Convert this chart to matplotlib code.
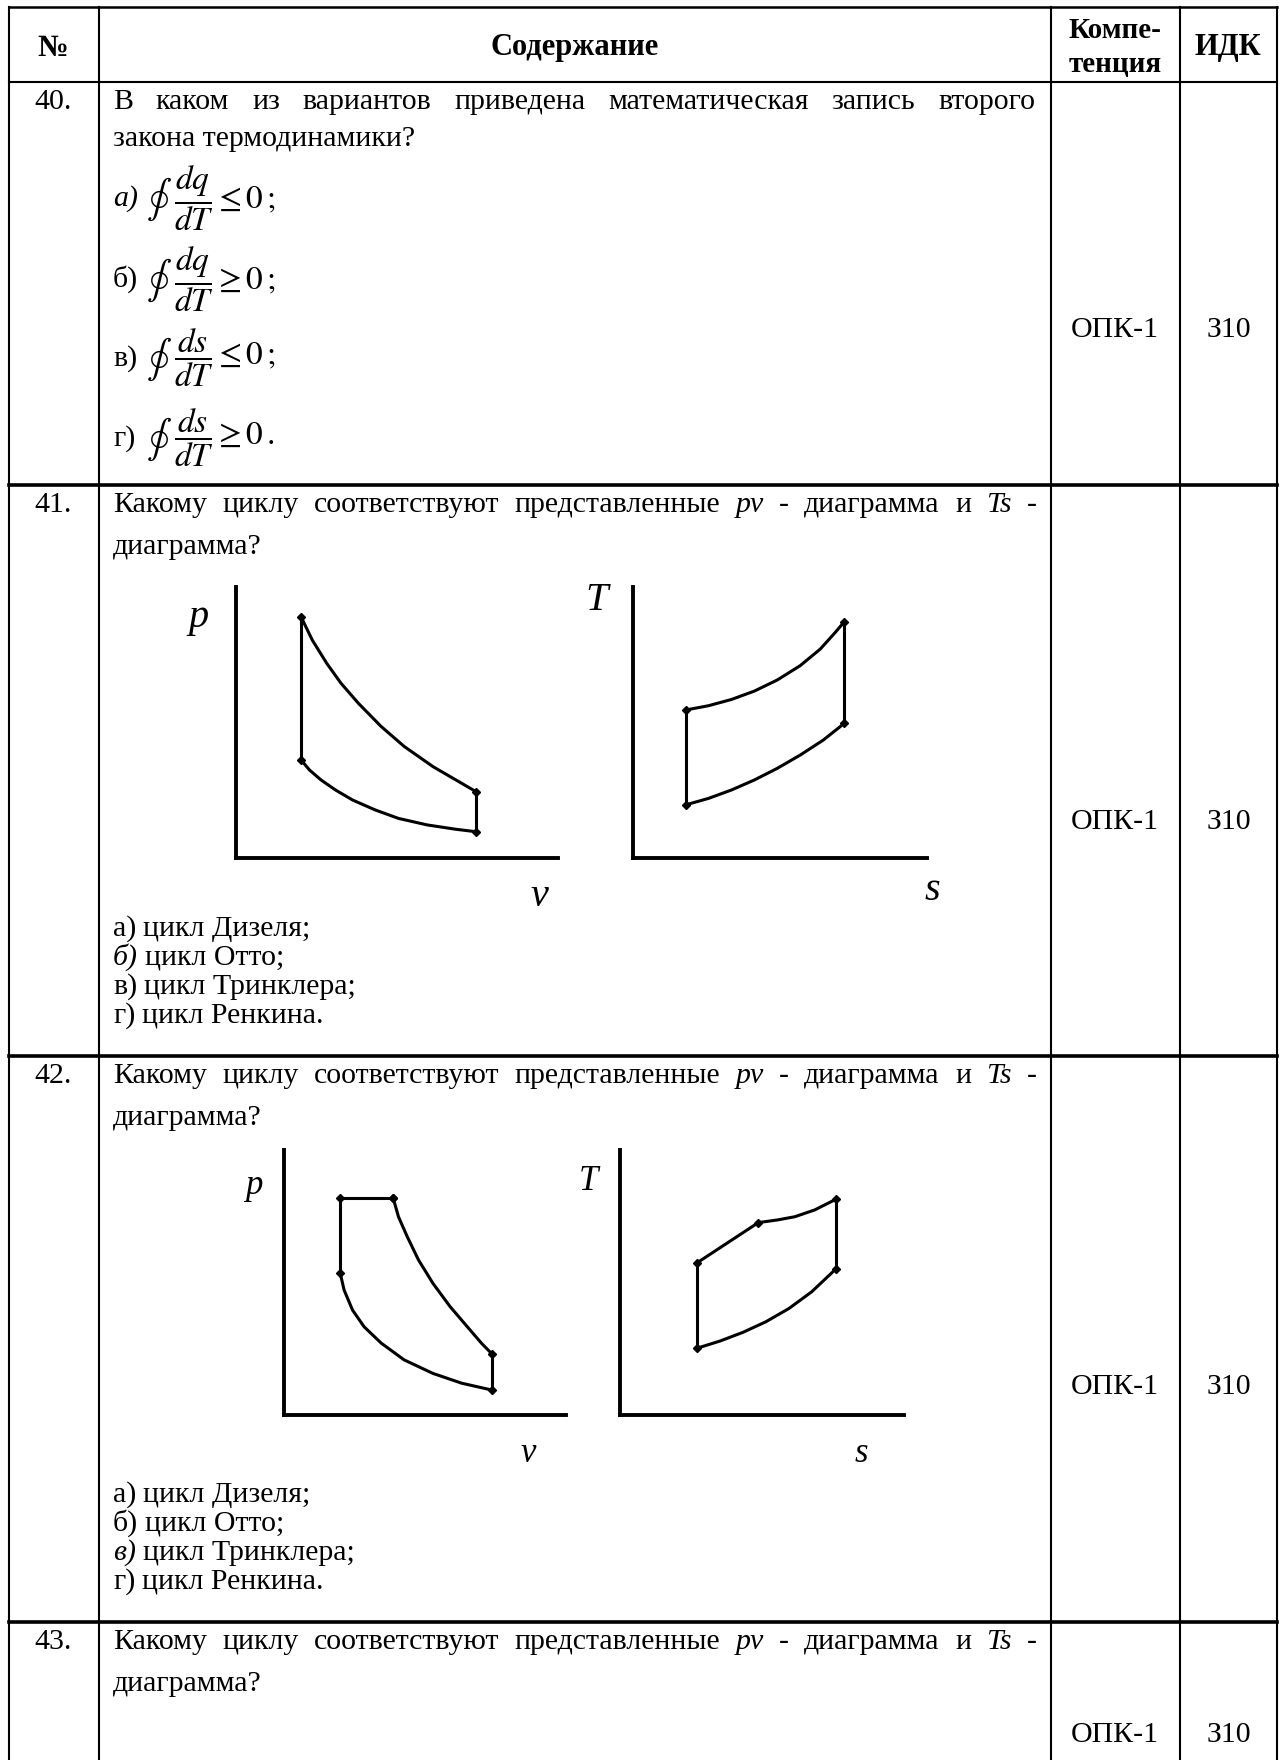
import matplotlib
matplotlib.use("Agg")
import matplotlib.pyplot as plt

plt.rcParams['font.family'] = ['Liberation Serif', 'DejaVu Serif']
plt.rcParams['mathtext.fontset'] = 'stix'

W, H = 1284, 1760
FS = 21.5

# table grid, page pixels
col_x = [9, 99, 1051, 1180, 1277]
row_y = [7, 82, 485, 1056, 1622]

header = ["№", "Содержание", "ИДК"]
header_comp = ["Компе-", "тенция"]
row_nums = ["40.", "41.", "42.", "43."]
competence = ["ОПК-1", "ОПК-1", "ОПК-1", "ОПК-1"]
idk = ["З10", "З10", "З10", "З10"]

q40_words = "В каком из вариантов приведена математическая запись второго".split()
q40_line2 = "закона термодинамики?"
q40_labels = ["а)", "б)", "в)", "г)"]
q40_formulas = [r"$\dfrac{dq}{dT}\leq 0\,;$",
                r"$\dfrac{dq}{dT}\geq 0\,;$",
                r"$\dfrac{ds}{dT}\leq 0\,;$",
                r"$\dfrac{ds}{dT}\geq 0\,.$"]

cycle_words = [("Какому", "normal"), ("циклу", "normal"), ("соответствуют", "normal"),
               ("представленные", "normal"), ("pv", "italic"), ("-", "normal"),
               ("диаграмма", "normal"), ("и", "normal"), ("Ts", "italic"), ("-", "normal")]
cycle_line2 = "диаграмма?"
answer_labels = ["а)", "б)", "в)", "г)"]
answers = ["цикл Дизеля;", "цикл Отто;", "цикл Тринклера;", "цикл Ренкина."]

# q41: Otto cycle (diagram units 0..100)
otto_exp_v = [20.2, 23.7, 28.2, 32.6, 38.0, 45.1, 52.3, 61.2, 68.3, 74.5]
otto_exp_p = [89.0, 80.4, 71.8, 64.5, 57.1, 48.5, 41.1, 33.7, 28.8, 24.5]
otto_comp_v = [20.2, 22.8, 26.4, 30.9, 36.2, 43.3, 50.5, 59.4, 68.3, 74.5]
otto_comp_p = [36.2, 32.5, 28.8, 25.1, 21.4, 17.7, 14.6, 12.2, 10.6, 9.7]
otto_hot_s = [17.9, 25.7, 33.5, 41.3, 49.1, 56.9, 63.7, 68.6, 71.9]
otto_hot_T = [54.6, 56.2, 58.5, 61.6, 65.7, 71.0, 77.1, 83.0, 87.2]
otto_cold_s = [17.9, 25.7, 33.5, 41.3, 49.1, 56.9, 64.7, 71.9]
otto_cold_T = [19.6, 22.0, 25.1, 28.8, 33.1, 38.0, 43.5, 49.7]

# q42: Trinkler cycle
trink_isobar_v = [19.9, 38.7]
trink_isobar_p = [81.9, 81.9]
trink_exp_v = [38.7, 40.6, 43.7, 47.7, 52.8, 58.9, 65.0, 70.1, 73.8]
trink_exp_p = [81.9, 74.8, 67.3, 58.5, 49.7, 40.9, 33.3, 27.0, 23.0]
trink_comp_v = [19.9, 21.3, 24.3, 28.4, 34.5, 42.6, 52.8, 63.0, 73.8]
trink_comp_p = [53.7, 47.2, 39.6, 33.3, 27.1, 20.8, 15.7, 12.0, 9.4]
trink_hot_s = [27.1, 48.7, 55.4, 61.5, 68.6, 76.0]
trink_hot_T = [57.4, 72.6, 73.6, 74.8, 77.4, 81.4]
trink_hot_marks = [0, 1, 5]
trink_cold_s = [27.1, 35.2, 43.3, 51.4, 59.5, 67.5, 76.0]
trink_cold_T = [25.2, 27.9, 31.2, 35.2, 40.2, 46.5, 55.1]

LW = 2.2
MS = 4

fig = plt.figure(figsize=(W / 100, H / 100), dpi=100)
ax = fig.add_axes([0, 0, 1, 1])
ax.set_xlim(0, W)
ax.set_ylim(H, 0)
ax.axis("off")
renderer = fig.canvas.get_renderer()


def width_of(t):
    return t.get_window_extent(renderer).width


def justify(words, x0, x1, y):
    texts = [ax.text(0, y, w, fontsize=FS, style=st, va="baseline") for w, st in words]
    widths = [width_of(t) for t in texts]
    gap = (x1 - x0 - sum(widths)) / (len(texts) - 1)
    x = x0
    for t, w in zip(texts, widths):
        t.set_x(x)
        x += w + gap


def label_line(label, text, y, italic=False):
    t = ax.text(113, y, label, fontsize=FS, va="baseline",
                style="italic" if italic else "normal")
    ax.text(113 + width_of(t) + 7, y, text, fontsize=FS, va="baseline")


def diagram(box):
    left, top, right, bottom = box
    a = fig.add_axes([left / W, 1 - bottom / H, (right - left) / W, (bottom - top) / H])
    a.set_xlim(0, 100)
    a.set_ylim(0, 100)
    a.patch.set_visible(False)
    for s in ("top", "right"):
        a.spines[s].set_visible(False)
    for s in ("left", "bottom"):
        a.spines[s].set_linewidth(2.8)
    a.set_xticks([])
    a.set_yticks([])
    return a


def curve(a, xs, ys, marks=(0, -1)):
    a.plot(xs, ys, color="black", lw=LW, solid_joinstyle="round",
           solid_capstyle="round", clip_on=False)
    for i in marks:
        a.plot(xs[i], ys[i], marker="D", ms=MS, color="black", clip_on=False)


def close(a, p, q):
    a.plot([p[0], q[0]], [p[1], q[1]], color="black", lw=LW, clip_on=False)


# ---- grid ----
for x in col_x:
    ax.plot([x, x], [row_y[0], H], color="black", lw=1.5)
ax.plot([col_x[0], col_x[-1]], [row_y[0], row_y[0]], color="black", lw=1.8)
ax.plot([col_x[0], col_x[-1]], [row_y[1], row_y[1]], color="black", lw=1.5)
for y in row_y[2:]:
    ax.plot([col_x[0], col_x[-1]], [y, y], color="black", lw=2.6)

# ---- header ----
HFS = 22
ax.text(53, 48, header[0], fontsize=HFS, weight="bold", ha="center", va="center")
ax.text(575, 48, header[1], fontsize=HFS, weight="bold", ha="center", va="center")
ax.text(1115, 38, header_comp[0], fontsize=21, weight="bold", ha="center", va="baseline")
ax.text(1115, 72, header_comp[1], fontsize=21, weight="bold", ha="center", va="baseline")
ax.text(1228, 48, header[2], fontsize=HFS, weight="bold", ha="center", va="center")

# ---- left and right columns ----
num_base = [109, 512, 1083, 1649]
comp_base = [337, 829, 1394, 1742]
for i in range(4):
    ax.text(53, num_base[i], row_nums[i], fontsize=FS, ha="center", va="baseline")
    ax.text(1115, comp_base[i], competence[i], fontsize=FS, ha="center", va="baseline")
    ax.text(1229, comp_base[i], idk[i], fontsize=FS, ha="center", va="baseline")

# ---- question 40 ----
justify([(w, "normal") for w in q40_words], 113, 1035, num_base[0])
ax.text(113, 146, q40_line2, fontsize=FS, va="baseline")
bars = [198, 279, 358, 438]
for i in range(4):
    ax.text(113, bars[i] + 8, q40_labels[i], fontsize=FS, va="baseline",
            style="italic" if i == 0 else "normal")
    ax.text(172, bars[i] + 1, r"$\oint$", fontsize=27, ha="right", va="center")
    ax.text(174, bars[i], q40_formulas[i], fontsize=24, va="center")

# ---- question 41 ----
justify(cycle_words, 113, 1037, num_base[1])
ax.text(113, num_base[1] + 42, cycle_line2, fontsize=FS, va="baseline")
for i in range(4):
    label_line(answer_labels[i], answers[i], 936 + 29 * i, italic=(i == 1))

a = diagram((236, 587, 558, 858))
curve(a, otto_exp_v, otto_exp_p)
curve(a, otto_comp_v, otto_comp_p)
close(a, (otto_exp_v[0], otto_exp_p[0]), (otto_comp_v[0], otto_comp_p[0]))
close(a, (otto_exp_v[-1], otto_exp_p[-1]), (otto_comp_v[-1], otto_comp_p[-1]))

a = diagram((633, 587, 927, 858))
curve(a, otto_hot_s, otto_hot_T)
curve(a, otto_cold_s, otto_cold_T)
close(a, (otto_hot_s[0], otto_hot_T[0]), (otto_cold_s[0], otto_cold_T[0]))
close(a, (otto_hot_s[-1], otto_hot_T[-1]), (otto_cold_s[-1], otto_cold_T[-1]))

ax.text(198, 617, "p", fontsize=29, style="italic", ha="center", va="center")
ax.text(539, 896, "v", fontsize=29, style="italic", ha="center", va="center")
ax.text(597, 600, "T", fontsize=29, style="italic", ha="center", va="center")
ax.text(932, 890, "s", fontsize=29, style="italic", ha="center", va="center")

# ---- question 42 ----
justify(cycle_words, 113, 1037, num_base[2])
ax.text(113, num_base[2] + 42, cycle_line2, fontsize=FS, va="baseline")
for i in range(4):
    label_line(answer_labels[i], answers[i], 1502 + 29 * i, italic=(i == 2))

a = diagram((284, 1150, 566, 1415))
curve(a, trink_isobar_v, trink_isobar_p)
curve(a, trink_exp_v, trink_exp_p)
curve(a, trink_comp_v, trink_comp_p)
close(a, (trink_isobar_v[0], trink_isobar_p[0]), (trink_comp_v[0], trink_comp_p[0]))
close(a, (trink_exp_v[-1], trink_exp_p[-1]), (trink_comp_v[-1], trink_comp_p[-1]))

a = diagram((620, 1150, 904, 1415))
curve(a, trink_hot_s, trink_hot_T, marks=trink_hot_marks)
curve(a, trink_cold_s, trink_cold_T)
close(a, (trink_hot_s[0], trink_hot_T[0]), (trink_cold_s[0], trink_cold_T[0]))
close(a, (trink_hot_s[-1], trink_hot_T[-1]), (trink_cold_s[-1], trink_cold_T[-1]))

ax.text(254, 1185, "p", fontsize=25, style="italic", ha="center", va="center")
ax.text(528, 1453, "v", fontsize=25, style="italic", ha="center", va="center")
ax.text(588, 1182, "T", fontsize=25, style="italic", ha="center", va="center")
ax.text(861, 1453, "s", fontsize=25, style="italic", ha="center", va="center")

# ---- question 43 ----
justify(cycle_words, 113, 1037, num_base[3])
ax.text(113, num_base[3] + 42, cycle_line2, fontsize=FS, va="baseline")

fig.savefig("out.png", dpi=100)
